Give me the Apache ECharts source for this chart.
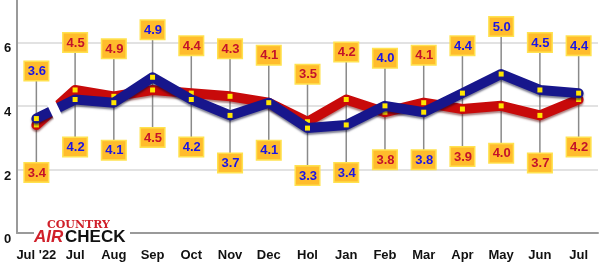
<!DOCTYPE html>
<html><head><meta charset="utf-8">
<script src="https://cdn.jsdelivr.net/npm/echarts@6/dist/echarts.min.js"></script>
<style>html,body{margin:0;padding:0;background:#fff}#c{width:600px;height:266px}</style>
</head><body><div id="c"></div>
<script>
const categories = ["Jul '22","Jul","Aug","Sep","Oct","Nov","Dec","Hol","Jan","Feb","Mar","Apr","May","Jun","Jul"];
const redValues  = [3.4,4.5,4.3,4.5,4.4,4.3,4.1,3.5,4.2,3.8,4.1,3.9,4.0,3.7,4.2];
const redLabels  = ["3.4","4.5","4.9","4.5","4.4","4.3","4.1","3.5","4.2","3.8","4.1","3.9","4.0","3.7","4.2"];
const blueValues = [3.6,4.2,4.1,4.9,4.2,3.7,4.1,3.3,3.4,4.0,3.8,4.4,5.0,4.5,4.4];
const blueLabels = ["3.6","4.2","4.1","4.9","4.2","3.7","4.1","3.3","3.4","4.0","3.8","4.4","5.0","4.5","4.4"];
const yTicks = [0,2,4,6];

const chart = echarts.init(document.getElementById('c'));
const boxStyle = {
  backgroundColor:'#ffbc2c',
  borderColor:'#ffe250', borderWidth:1.5, padding:[3,2,2,3],
  fontFamily:'Liberation Sans, Arial, sans-serif', fontWeight:'bold', fontSize:13, lineHeight:13
};
function labelFor(i, mine, other, txt, color, isRed){
  const up = mine > other || (mine === other && isRed);
  return { value: mine, label: Object.assign({show:true, position: up?'top':'bottom', distance:36,
    formatter: txt, color: color}, boxStyle) };
}
const redData = redValues.map((v,i)=>labelFor(i,v,blueValues[i],redLabels[i],'#c4122a',true));
const blueData = blueValues.map((v,i)=>labelFor(i,v,redValues[i],blueLabels[i],'#1a14e6',false));
const leaderData = categories.map((c,i)=>[i, Math.max(redValues[i],blueValues[i]), Math.min(redValues[i],blueValues[i])]);

chart.setOption({
  animation:false,
  grid:{left:17,right:2,top:0,bottom:33},
  xAxis:{type:'category',data:categories,boundaryGap:true,
    axisLine:{lineStyle:{color:'#9a9a9a',width:2}},
    axisTick:{inside:true,length:8,alignWithLabel:true,lineStyle:{color:'#777',width:1}},
    axisLabel:{margin:16,color:'#111',fontWeight:'bold',fontSize:13,fontFamily:'Liberation Sans Narrow, Arial Narrow, sans-serif',interval:0}},
  yAxis:{type:'value',min:0,max:7.33,interval:2,
    axisLine:{show:true,lineStyle:{color:'#9a9a9a',width:2}},
    axisTick:{show:false},
    splitLine:{showMaxLine:false,showMinLine:false,lineStyle:{color:'#d8d8d8',width:1.5}},
    axisLabel:{showMaxLabel:false,align:'left',verticalAlign:'top',margin:13,color:'#111',fontWeight:'bold',fontSize:13,fontFamily:'Liberation Sans, Arial, sans-serif',
      formatter:v=>yTicks.includes(v)?String(v):''}},
  series:[
    {type:'custom',z:1,data:leaderData,silent:true,
     renderItem:(params,api)=>{
       const top = api.coord([api.value(0),api.value(1)]);
       const bot = api.coord([api.value(0),api.value(2)]);
       return {type:'line',shape:{x1:top[0],y1:top[1]-44,x2:bot[0],y2:bot[1]+44},style:{stroke:'#8a8a8a',lineWidth:1.5}};
     }},
    {type:'line',name:'red',z:3,data:redData,symbol:'rect',symbolSize:5,
     itemStyle:{color:'#ffe600'},
     lineStyle:{color:'#c80a0a',width:10,cap:'round',join:'round',shadowColor:'rgba(90,0,0,0.5)',shadowBlur:2,shadowOffsetY:2}},
    {type:'line',name:'blue',z:4,data:blueData,symbol:'rect',symbolSize:5,
     itemStyle:{color:'#ffe600'},
     lineStyle:{color:'#17168c',width:10,cap:'round',join:'round',shadowColor:'rgba(0,0,40,0.5)',shadowBlur:2,shadowOffsetY:2}}
  ]
});

// break marker between first two points
const pA = chart.convertToPixel({seriesIndex:1},[0,(redValues[0]+blueValues[0])/2]);
const pB = chart.convertToPixel({seriesIndex:1},[1,(redValues[1]+blueValues[1])/2]);
const mx = (pA[0]+pB[0])/2 - 1, my = (pA[1]+pB[1])/2 + 2;
chart.setOption({graphic:[
  {type:'rect',x:mx,y:my,rotation:Math.PI/7,z:100,
   shape:{x:-4.5,y:-20,width:9,height:40},style:{fill:'#fff'}},
  {type:'rect',left:34,top:212,z:100,shape:{width:96,height:30},style:{fill:'#fff'}},
  {type:'group',left:58,top:212,z:101,children:[
    {type:'arc',shape:{cx:6,cy:10,r:3,startAngle:Math.PI*1.15,endAngle:Math.PI*1.85},style:{stroke:'#aaa',lineWidth:1.2,fill:null}},
    {type:'arc',shape:{cx:6,cy:10,r:6,startAngle:Math.PI*1.15,endAngle:Math.PI*1.85},style:{stroke:'#aaa',lineWidth:1.2,fill:null}},
    {type:'arc',shape:{cx:6,cy:10,r:9,startAngle:Math.PI*1.15,endAngle:Math.PI*1.85},style:{stroke:'#aaa',lineWidth:1.2,fill:null}}
  ]},
  {type:'text',left:47,top:220,z:101,style:{text:'COUNTRY',fill:'#d0202a',font:'bold 11px "DejaVu Serif", serif'}},
  {type:'text',left:34,top:229,z:101,style:{text:'AIR',fill:'#d0202a',font:'italic bold 17px "Liberation Sans", Arial, sans-serif'}},
  {type:'text',left:65,top:229,z:101,style:{text:'CHECK',fill:'#111',font:'bold 17px "Liberation Sans", Arial, sans-serif'}}
]});
</script></body></html>
